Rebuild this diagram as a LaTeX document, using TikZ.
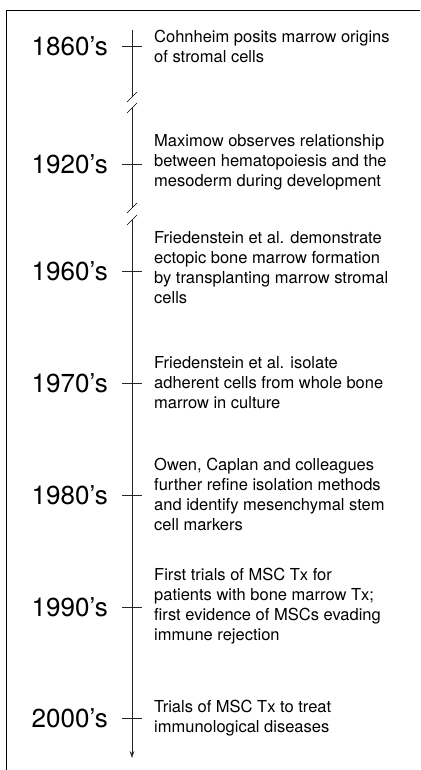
\documentclass[tikz,border=0pt]{standalone}
\usepackage{fontspec}
\setmainfont{TeX Gyre Heros}
\usetikzlibrary{arrows.meta}
\begin{document}
\begin{tikzpicture}[x=1pt,y=-1pt,
  year/.style={anchor=east,inner sep=0pt,font=\fontsize{26}{30}\selectfont},
  desc/.style={anchor=west,inner sep=0pt,align=left,font=\fontsize{16.5}{20}\selectfont},
  axisline/.style={line width=0.6pt,black!85},
  tickline/.style={line width=0.6pt,black!85},
  brk/.style={line width=0.7pt}]
\useasboundingbox (0,0) rectangle (420,770);
% frame (top and left edges)
\draw[line width=0.8pt] (420,10) -- (6,10) -- (6,770);
% tick coordinates
\coordinate (t1) at (132,46);
\coordinate (t2) at (132,164);
\coordinate (t3) at (132,271);
\coordinate (t4) at (132,383);
\coordinate (t5) at (132,495);
\coordinate (t6) at (132,607);
\coordinate (t7) at (132,718);
\coordinate (top) at (132,30);
\coordinate (b1a) at (132,97);
\coordinate (b1b) at (132,108);
\coordinate (b2a) at (132,208);
\coordinate (b2b) at (132,220);
\coordinate (end) at (132,758);
% axis
\draw[axisline] (top) -- (b1a);
\draw[axisline] (b1b) -- (b2a);
\draw[axisline,-{Stealth[length=7pt,width=4.5pt]}] (b2b) -- (end);
% break marks
\foreach \b in {b1a,b1b,b2a,b2b}
  \draw[brk] ([shift={(-5,5)}]\b) -- ([shift={(5,-5)}]\b);
% ticks
\foreach \t in {t1,t2,t3,t4,t5,t6,t7}
  \draw[tickline] ([xshift=-10pt]\t) -- ([xshift=10pt]\t);
% years
\node[year] (y1) at (108,46) {1860’s};
\node[year] (y2) at (108,164) {1920’s};
\node[year] (y3) at (108,271) {1960’s};
\node[year] (y4) at (108,383) {1970’s};
\node[year] (y5) at (108,495) {1980’s};
\node[year] (y6) at (108,607) {1990’s};
\node[year] (y7) at (108,718) {2000’s};
% descriptions
\node[desc] (d1) at (154,46) {Cohnheim posits marrow origins\\of stromal cells};
\node[desc] (d2) at (154,162) {Maximow observes relationship\\between hematopoiesis and the\\mesoderm during development};
\node[desc] (d3) at (154,268) {Friedenstein et al. demonstrate\\ectopic bone marrow formation\\by transplanting marrow stromal\\cells};
\node[desc] (d4) at (154,383) {Friedenstein et al. isolate\\adherent cells from whole bone\\marrow in culture};
\node[desc] (d5) at (154,494) {Owen, Caplan and colleagues\\further refine isolation methods\\and identify mesenchymal stem\\cell markers};
\node[desc] (d6) at (154,606) {First trials of MSC Tx for\\patients with bone marrow Tx;\\first evidence of MSCs evading\\immune rejection};
\node[desc] (d7) at (154,718) {Trials of MSC Tx to treat\\immunological diseases};
\end{tikzpicture}
\end{document}
